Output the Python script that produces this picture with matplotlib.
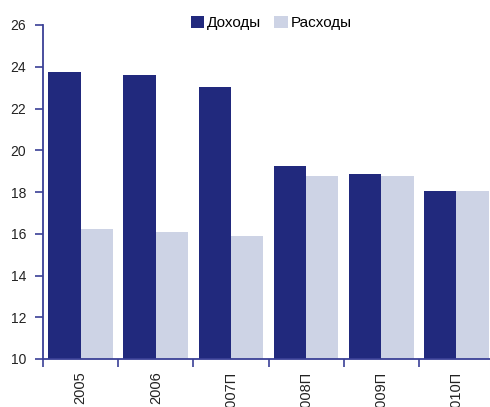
import matplotlib
matplotlib.use("Agg")
import matplotlib.pyplot as plt
import numpy as np

categories = ["2005", "2006", "2007П", "2008П", "2009П", "2010П"]
income = [23.75, 23.62, 23.05, 19.25, 18.86, 18.07]
expenses = [16.25, 16.06, 15.87, 18.78, 18.78, 18.07]
series_names = ["Доходы", "Расходы"]

plt.rcParams['font.family'] = ['Liberation Sans', 'DejaVu Sans']

dark = "#21297D"
light = "#CDD3E5"
axis_col = "#3A4096"

fig = plt.figure(figsize=(4.90, 4.07), dpi=100)
ax = fig.add_axes([43/490, 48/407, 451/490, 334/407])

x = np.arange(len(categories))
w = 0.43
b1 = ax.bar(x - w/2, np.array(income) - 10, w, bottom=10, color=dark, label=series_names[0])
b2 = ax.bar(x + w/2, np.array(expenses) - 10, w, bottom=10, color=light, label=series_names[1])

ax.set_ylim(10, 26)
ax.set_yticks(np.arange(10, 27, 2))
ax.set_xlim(-0.5, len(categories) - 0.5)
ax.set_xticks(np.arange(len(categories) + 1) - 0.5)
ax.set_xticklabels([])
ax.set_xticks(x, minor=True)
ax.set_xticklabels(categories, minor=True, rotation=90, va='top', ha='center')
ax.tick_params(axis='x', which='minor', length=0, pad=9, labelsize=10.5, labelcolor="#222222")
ax.tick_params(axis='x', which='major', length=6, width=1.2, color=axis_col, direction='out')
ax.tick_params(axis='y', length=6, width=1.2, color=axis_col, labelsize=10, labelcolor="#222222", pad=6)

for s in ['top', 'right']:
    ax.spines[s].set_visible(False)
for s in ['left', 'bottom']:
    ax.spines[s].set_color(axis_col)
    ax.spines[s].set_linewidth(1.3)

fig.legend(handles=[b1, b2], loc='center', bbox_to_anchor=(271/490, 1 - 23/407),
           ncol=2, frameon=False, fontsize=11, handlelength=0.9, handleheight=0.9,
           handletextpad=0.15, columnspacing=0.9)

fig.savefig("out.png", dpi=100)
